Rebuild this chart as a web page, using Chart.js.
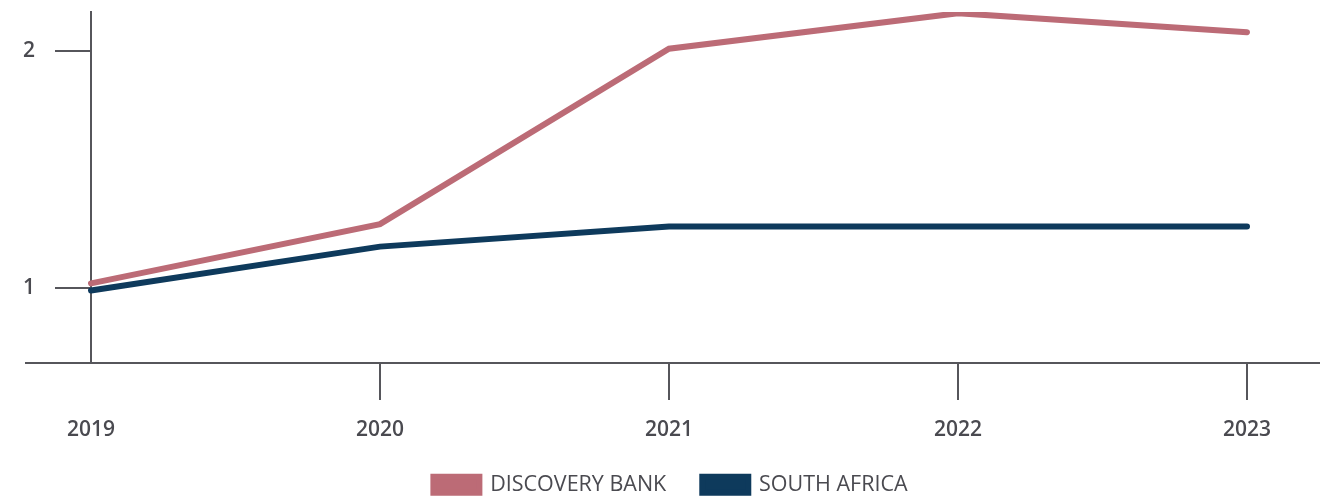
<!DOCTYPE html>
<html>
<head>
<meta charset="utf-8">
<script src="https://cdn.jsdelivr.net/npm/chart.js@4/dist/chart.umd.min.js"></script>
<style>
  html, body { margin: 0; padding: 0; background: #fff; }
</style>
</head>
<body>
<canvas id="myChart" width="1341" height="498"></canvas>
<script>
// chart values
const years = ['2019', '2020', '2021', '2022', '2023']
const discoveryBank = [1.02, 1.27, 2.01, 2.16, 2.08]
const southAfrica = [0.99, 1.175, 1.26, 1.26, 1.26]
const yTicks = [1, 2]

const axisColor = '#56565b'
const textColor = '#4a4a50'

// x axis line runs past the plot on both sides
const axisLine = {
  id: 'axisLine',
  beforeDatasetsDraw(chart) {
    const {ctx, chartArea} = chart
    ctx.save()
    ctx.strokeStyle = axisColor
    ctx.lineWidth = 2
    ctx.beginPath()
    ctx.moveTo(chartArea.left - 66, chartArea.bottom)
    ctx.lineTo(chartArea.right + 73, chartArea.bottom)
    ctx.stroke()
    ctx.restore()
  }
}

const ctx = document.getElementById('myChart').getContext('2d')

const myChart = new Chart(ctx, {
  type: 'line',
  data: {
    labels: years,
    datasets: [{
      label: 'DISCOVERY BANK',
      data: discoveryBank,
      borderColor: '#bc6b76',
      backgroundColor: '#bc6b76',
      borderWidth: 6,
      borderCapStyle: 'round',
      pointRadius: 0,
      tension: 0
    }, {
      label: 'SOUTH AFRICA',
      data: southAfrica,
      borderColor: '#0e3a5c',
      backgroundColor: '#0e3a5c',
      borderWidth: 6,
      borderCapStyle: 'round',
      pointRadius: 0,
      tension: 0
    }]
  },
  options: {
    responsive: false,
    animation: false,
    layout: { padding: { top: 12, left: 0, right: 0, bottom: -7.5 } },
    plugins: {
      tooltip: { enabled: false },
      legend: {
        position: 'bottom',
        labels: {
          boxWidth: 46,
          boxHeight: 16,
          padding: 36,
          color: textColor,
          font: { family: '"Open Sans"', size: 21.5 }
        }
      }
    },
    scales: {
      x: {
        grid: {
          drawOnChartArea: false,
          drawTicks: true,
          tickLength: 37,
          lineWidth: 2,
          color: c => c.index === 0 ? 'rgba(0,0,0,0)' : axisColor
        },
        border: { display: false },
        ticks: {
          padding: 17,
          color: textColor,
          font: { family: '"Open Sans"', size: 21, weight: '600' }
        },
        afterFit(scale) {
          scale.height = 498 + 7.5 - 363 - scale.chart.legend.height
          scale.paddingRight = 94
        }
      },
      y: {
        min: 0.684,
        max: 2.165,
        grid: {
          drawOnChartArea: false,
          drawTicks: true,
          tickLength: 36,
          lineWidth: 2,
          color: axisColor
        },
        border: { display: true, color: axisColor, width: 2 },
        ticks: {
          padding: 20,
          color: textColor,
          font: { family: '"Open Sans"', size: 21, weight: '600' }
        },
        afterBuildTicks(scale) {
          scale.ticks = yTicks.map(v => ({ value: v }))
        },
        afterFit(scale) {
          scale.width = 91
          scale.paddingTop = 0
          scale.paddingBottom = 0
        }
      }
    }
  },
  plugins: [axisLine]
})
</script>
</body>
</html>
